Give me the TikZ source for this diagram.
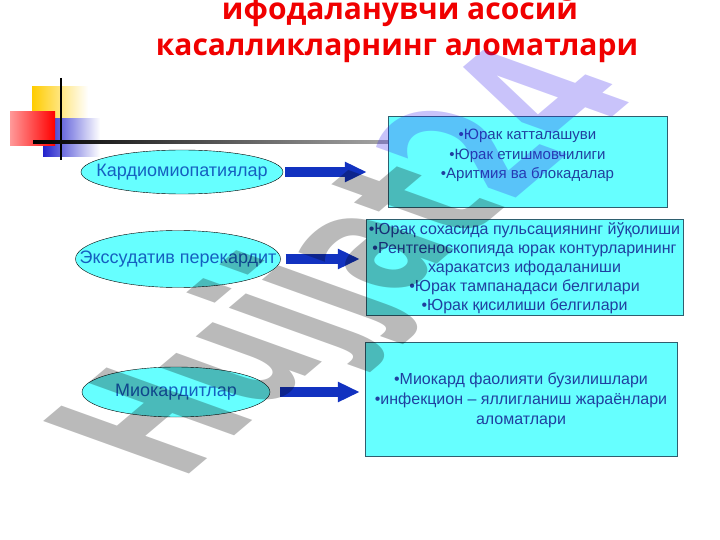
\documentclass[tikz,border=0pt]{standalone}
\usepackage{fontspec}
\setmainfont{Liberation Sans}
\newfontfamily\titlefont{Open Sans}
\newfontfamily\markfont{DejaVu Sans}
\usepackage{tikz}
\usetikzlibrary{arrows.meta,shapes.geometric}

\definecolor{ovalfill}{HTML}{66FFFF}
\definecolor{boxfill}{HTML}{66FFFF}
\definecolor{boxline}{HTML}{2F5F6F}
\definecolor{ovaltext}{HTML}{1560C0}
\definecolor{boxtext}{HTML}{2040A0}
\definecolor{arrowblue}{HTML}{1232C0}
\definecolor{titlered}{HTML}{F00000}
\definecolor{markviolet}{RGB}{55,35,235}
\definecolor{sqyellow}{HTML}{FFCC00}
\definecolor{sqblue}{HTML}{2222CC}

\begin{document}
\begin{tikzpicture}[x=1pt, y=-1pt,
        oval/.style = {ellipse, draw=black, thin, fill=ovalfill, inner sep=0pt,
                font = {\fontsize{18}{20}\selectfont}, text=ovaltext},
        signbox/.style = {rectangle, draw=boxline, fill=boxfill, inner sep=0pt,
                align=center, font = {\fontsize{16}{19}\selectfont}, text=boxtext},
        bigarrow/.style = {arrowblue, line width=10pt,
                -{Triangle[length=22pt, width=19pt]}}]
        \useasboundingbox (0,0) rectangle (720,540);

        % title
        \node[font = {\titlefont\bfseries\fontsize{30}{33}\selectfont}, titlered, anchor=base] (title1) at (400, 20) {ифодаланувчи асосий};
        \node[font = {\titlefont\bfseries\fontsize{30}{33}\selectfont}, titlered, anchor=base] (title2) at (397, 56) {касалликларнинг аломатлари};

        % corner squares
        \shade[left color=sqyellow, right color=white] (32, 87) rectangle (88, 119);
        \shade[left color=sqblue, right color=white] (43, 119) rectangle (100, 157);
        \shade[left color=red!40, right color=red] (10, 112) rectangle (55, 146);
        \draw[black, line width=2.5pt] (61, 78) -- (61, 160);
        \shade[left color=black, right color=gray!70] (33, 140.5) rectangle (388, 143.5);

        % diseases
        \node[oval, minimum width=202pt, minimum height=44pt] (kard) at (182, 172) {\makebox[0pt]{Кардиомиопатиялар}};
        \node[oval, minimum width=205pt, minimum height=57pt] (exud) at (178, 259) {\makebox[0pt]{Экссудатив перекардит}};
        \node[oval, minimum width=188pt, minimum height=50pt] (miok) at (176, 392) {\makebox[0pt]{Миокардитлар}};

        % signs
        \node[signbox, font = {\fontsize{15}{19.5}\selectfont}, text depth=15pt,
                minimum width=279pt, minimum height=91pt] (kardbox) at (527.5, 161.5)
                {•Юрак катталашуви\\•Юрак етишмовчилиги\\•Аритмия ва блокадалар};
        \node[signbox, text depth=-10pt, minimum width=317pt, minimum height=96pt] (exudbox) at (524.5, 267)
                {•Юрақ сохасида пульсациянинг йўқолиши\\•Рентгеноскопияда юрак контурларининг\\харакатсиз ифодаланиши\\•Юрак тампанадаси белгилари\\•Юрак қисилиши белгилари};
        \node[signbox, font = {\fontsize{16}{20}\selectfont}, text depth=-14pt,
                minimum width=312pt, minimum height=114pt] (miokbox) at (521, 399)
                {•Миокард фаолияти бузилишлари\\•инфекцион – яллигланиш жараёнлари\\аломатлари};

        \draw[bigarrow, shorten <=2pt, shorten >=21pt] (kard.east) -- (kard.east -| kardbox.west);
        \draw[bigarrow, shorten <=5pt, shorten >=6pt] (exud.east) -- (exud.east -| exudbox.west);
        \draw[bigarrow, shorten <=10pt, shorten >=5pt] (miok.east) -- (miok.east -| miokbox.west);

        % watermark
        \node[font = {\markfont\bfseries\fontsize{100}{100}\selectfont}, text=black, text opacity=0.27,
                inner sep=0pt, anchor=base west, transform shape,
                cm={0.97,0.82,-2.0,0.72,(180,482)}] (mark) at (0, 0) {Hujjat\textcolor{markviolet}{24}};
\end{tikzpicture}
\end{document}
